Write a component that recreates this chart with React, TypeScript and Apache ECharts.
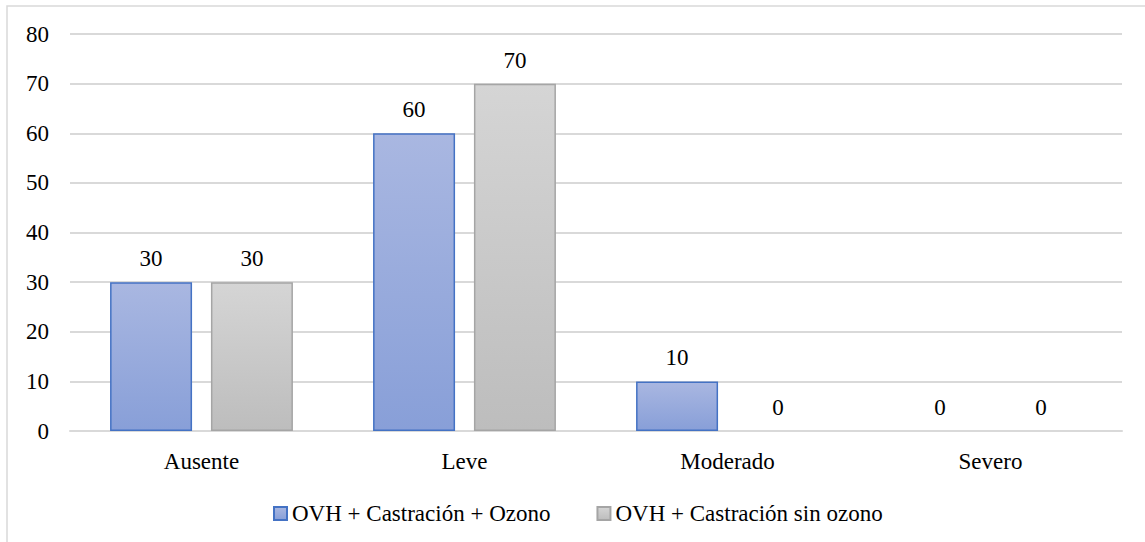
import React, { useEffect, useRef } from "react";
import * as echarts from "echarts";

const categories = ["Ausente", "Leve", "Moderado", "Severo"];
const seriesNames = ["OVH + Castración + Ozono", "OVH + Castración sin ozono"];
const conOzono = [30, 60, 10, 0];
const sinOzono = [30, 70, 0, 0];
const yTicks = { min: 0, max: 80, interval: 10 };

const FONT = "Liberation Serif";
const FS = 23;

export default function App() {
  const ref = useRef<HTMLDivElement>(null);
  useEffect(() => {
    if (!ref.current) return;
    const chart = echarts.init(ref.current, undefined, { renderer: "svg" });
    const blueGrad = new echarts.graphic.LinearGradient(0, 0, 0, 1, [
      { offset: 0, color: "#a9b7e1" },
      { offset: 1, color: "#889fd8" },
    ]);
    const grayGrad = new echarts.graphic.LinearGradient(0, 0, 0, 1, [
      { offset: 0, color: "#d5d5d5" },
      { offset: 1, color: "#bdbdbd" },
    ]);
    const label = {
      show: true,
      position: "top" as const,
      distance: 12,
      color: "#000",
      fontFamily: FONT,
      fontSize: FS,
    };
    const toData = (vals: number[]) =>
      vals.map((v) => (v === 0 ? { value: v, itemStyle: { borderWidth: 0 } } : v));
    chart.setOption({
      animation: false,
      backgroundColor: "#fff",
      textStyle: { fontFamily: FONT },
      graphic: [
        {
          type: "rect",
          shape: { x: 7, y: 6, width: 1160, height: 600 },
          style: { fill: "none", stroke: "#d9d9d9", lineWidth: 1.5 },
          silent: true,
        },
      ],
      grid: { left: 70, right: 23, top: 34, bottom: 111, containLabel: false },
      legend: {
        data: seriesNames,
        top: 497,
        left: 268,
        icon: "rect",
        itemWidth: 13,
        itemHeight: 13,
        itemGap: 46,
        textStyle: { fontFamily: FONT, fontSize: FS, color: "#000" },
      },
      xAxis: {
        type: "category",
        data: categories,
        axisLine: { lineStyle: { color: "#d9d9d9", width: 2 } },
        axisTick: { show: false },
        axisLabel: { fontFamily: FONT, fontSize: FS, color: "#000", margin: 19 },
      },
      yAxis: {
        type: "value",
        min: yTicks.min,
        max: yTicks.max,
        interval: yTicks.interval,
        axisLine: { show: false },
        axisTick: { show: false },
        splitLine: { lineStyle: { color: "#d9d9d9", width: 2 } },
        axisLabel: { fontFamily: FONT, fontSize: FS, color: "#000", margin: 21 },
      },
      series: [
        {
          name: seriesNames[0],
          type: "bar",
          data: toData(conOzono),
          barWidth: 82,
          barGap: "23%",
          itemStyle: { color: blueGrad, borderColor: "#4472c4", borderWidth: 1.5 },
          label,
        },
        {
          name: seriesNames[1],
          type: "bar",
          data: toData(sinOzono),
          barWidth: 82,
          barGap: "23%",
          itemStyle: { color: grayGrad, borderColor: "#a5a5a5", borderWidth: 1.5 },
          label,
        },
      ],
    });
    return () => chart.dispose();
  }, []);
  return (
    <div
      ref={ref}
      style={{ position: "absolute", left: 0, top: 0, width: 1145, height: 542 }}
    />
  );
}
